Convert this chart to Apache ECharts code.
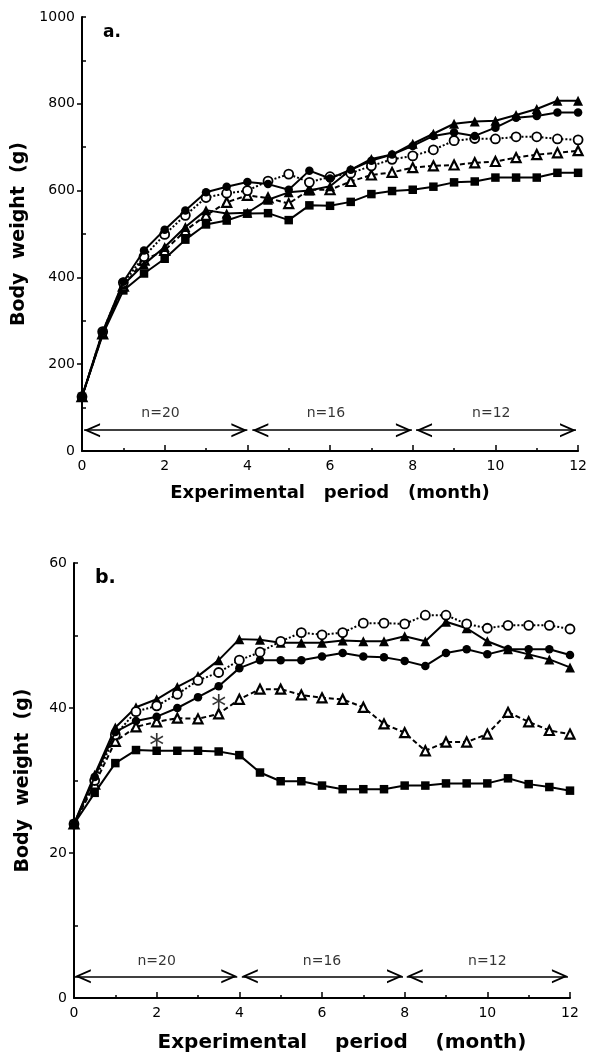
<!DOCTYPE html>
<html><head><meta charset="utf-8">
<script src="https://cdn.jsdelivr.net/npm/echarts@6/dist/echarts.min.js"></script>
<style>html,body{margin:0;padding:0;background:#fff}#c{width:590px;height:1057px}</style>
</head><body><div id="c"></div>
<script>
// ---------- data ----------
const months = [0,0.5,1,1.5,2,2.5,3,3.5,4,4.5,5,5.5,6,6.5,7,7.5,8,8.5,9,9.5,10,10.5,11,11.5,12];

// panel a body weight, g
const aFilledCircle   = [125,275,390,462,510,554,596,609,620,615,602,646,628,648,669,683,703,726,734,726,745,768,772,780,780];
const aOpenCircle     = [125,275,388,448,499,543,584,594,600,622,638,619,632,640,657,672,680,694,715,720,719,724,724,719,717];
const aFilledTriangle = [125,272,383,430,470,516,555,547,549,579,596,600,610,648,673,683,708,731,754,759,761,774,788,807,807];
const aOpenTriangle   = [125,270,380,440,462,508,543,573,589,583,570,602,602,621,636,642,653,657,659,664,667,676,683,687,692];
const aSquare         = [125,268,370,409,443,487,522,531,547,548,532,566,565,574,592,599,602,609,619,621,630,630,630,641,641];

// panel b body weight, g
const bFilledCircle   = [24,30.5,36.7,38.2,38.8,40.0,41.5,43.0,45.5,46.6,46.6,46.6,47.1,47.6,47.1,47.0,46.5,45.8,47.6,48.1,47.4,48.1,48.1,48.1,47.3];
const bOpenCircle     = [24,30.0,36.3,39.5,40.3,41.9,43.8,44.9,46.6,47.7,49.2,50.4,50.1,50.4,51.7,51.7,51.6,52.8,52.8,51.6,51.0,51.4,51.4,51.4,50.9];
const bFilledTriangle = [24,30.8,37.3,40.1,41.2,42.9,44.4,46.6,49.5,49.4,49.0,49.0,49.0,49.3,49.2,49.2,49.9,49.2,51.9,51.0,49.2,48.1,47.4,46.7,45.6];
const bOpenTriangle   = [24,29.5,35.4,37.4,38.1,38.6,38.5,39.2,41.2,42.6,42.6,41.8,41.4,41.2,40.1,37.8,36.6,34.1,35.3,35.3,36.4,39.4,38.1,36.9,36.4];
const bSquare         = [24,28.3,32.4,34.2,34.1,34.1,34.1,34.0,33.5,31.1,29.9,29.9,29.3,28.8,28.8,28.8,29.3,29.3,29.6,29.6,29.6,30.3,29.5,29.1,28.6];

// group-size annotations
const nTexts = ['n=20','n=16','n=12'];
const aNX = [1.9,5.9,9.9];
const aNY = 87;
const aArrowY = 48;
const aArrows = [[0.05,4.0],[4.12,7.98],[8.08,11.95]];
const bNX = [2,6,10];
const bNY = 5;
const bArrowY = 3;
const bArrows = [[0.02,3.95],[4.06,7.96],[8.05,11.95]];
// significance asterisks (panel b)
const bAsterisks = [[2,35.7],[3.5,41.1]];

// axis ticks
const aYTicks = [0,200,400,600,800,1000];
const bYTicks = [0,20,40,60];
const xTicks = [0,2,4,6,8,10,12];

// ---------- chart ----------
const FONT = 'DejaVu Sans';
const BLACK = '#000';
// open chevron, tip at the centre of its bounding box
const chevron = 'path://M0,0 L7,16 L5.04,16 L0,4.49 L-5.04,16 L-7,16 Z M0,-16 L0,-16 Z';

const styles = {
  filledCircle:   {symbol:'circle',   size:8.5, fill:BLACK,  bw:0,   type:'solid',  z:5},
  openCircle:     {symbol:'circle',   size:9,   fill:'#fff', bw:1.8, type:'dotted', z:4},
  filledTriangle: {symbol:'triangle', size:10,  fill:BLACK,  bw:0,   type:'solid',  z:3},
  openTriangle:   {symbol:'triangle', size:9,   fill:'#fff', bw:2.2, type:[5,3],    z:2},
  square:         {symbol:'rect',     size:8.5, fill:BLACK,  bw:0,   type:'solid',  z:1}
};

function lineSeries(name, vals, gi, st) {
  return {
    name, type:'line', xAxisIndex:gi, yAxisIndex:gi*2,
    data: months.map((m,i)=>[m, vals[i]]),
    symbol: st.symbol, symbolSize: st.size, showAllSymbol:true,
    itemStyle:{color:st.fill, borderColor:BLACK, borderWidth:st.bw},
    lineStyle:{color:BLACK, width:2, type:st.type},
    emphasis:{disabled:true}, z: st.z
  };
}

function annot(gi, nx, ny, arrows, arrowY) {
  return {
    type:'scatter', xAxisIndex:gi, yAxisIndex:gi*2,
    symbol:'circle', symbolSize:1, itemStyle:{color:'rgba(0,0,0,0)'},
    label:{show:true, position:'inside', formatter:p=>p.data.name,
      fontFamily:FONT, fontSize:14, color:BLACK},
    data: nx.map((x,i)=>({value:[x,ny], name:nTexts[i]})),
    silent:true,
    markLine:{
      silent:true, animation:false,
      symbol:[chevron, chevron], symbolSize:[14,32],
      lineStyle:{color:BLACK, width:1.6, type:'solid'},
      label:{show:false},
      data: arrows.map(a=>[{coord:[a[0],arrowY]},{coord:[a[1],arrowY]}])
    }
  };
}

function xAxis(gi, gap, fs, name, pad) {
  return {
    type:'value', gridIndex:gi, min:0, max:12, interval:2,
    name:name, nameLocation:'middle', nameGap:gap,
    nameTextStyle:{fontFamily:FONT, fontWeight:'bold', fontSize:fs, color:BLACK, padding:pad},
    axisLine:{show:true, lineStyle:{color:BLACK, width:2}},
    axisTick:{show:true, inside:true, length:6, lineStyle:{color:BLACK, width:1.5}, customValues:xTicks},
    minorTick:{show:true, splitNumber:2, length:3, lineStyle:{color:BLACK, width:1.5}},
    axisLabel:{fontFamily:FONT, fontSize:14, color:BLACK, margin:8, customValues:xTicks, formatter:v=>String(v)},
    splitLine:{show:false}
  };
}

function yAxes(gi, max, interval, ticks, minor, gap) {
  return [{
    type:'value', gridIndex:gi, min:0, max:max, interval:interval, position:'left',
    name:'Body  weight  (g)', nameLocation:'middle', nameGap:gap,
    nameTextStyle:{fontFamily:FONT, fontWeight:'bold', fontSize:19, color:BLACK},
    axisLine:{show:true, lineStyle:{color:BLACK, width:2}},
    axisTick:{show:true, inside:false, length:5, lineStyle:{color:BLACK, width:1.5},
      customValues:ticks.slice(1, ticks.length-1)},
    axisLabel:{fontFamily:FONT, fontSize:14, color:BLACK, margin:7, customValues:ticks, formatter:v=>String(v)},
    splitLine:{show:false}
  },{
    type:'value', gridIndex:gi, min:0, max:max, position:'left',
    axisLine:{show:false}, axisLabel:{show:false}, splitLine:{show:false},
    axisTick:{show:true, inside:true, length:4, lineStyle:{color:BLACK, width:1.5}, customValues:minor}
  }];
}

const option = {
  animation:false,
  backgroundColor:'#fff',
  title:[
    {text:'a.', left:103, top:24, padding:0, textStyle:{fontFamily:FONT, fontWeight:'bold', fontSize:17, color:BLACK}},
    {text:'b.', left:95, top:569, padding:0, textStyle:{fontFamily:FONT, fontWeight:'bold', fontSize:19, color:BLACK}}
  ],
  grid:[
    {left:82, top:17, width:499, height:434},
    {left:74, top:563, width:496, height:435}
  ],
  xAxis:[
    xAxis(0, 33, 18, 'Experimental   period   (month)', [0,0,0,0]),
    xAxis(1, 35, 20, 'Experimental    period    (month)', [0,0,0,40])
  ],
  yAxis:[...yAxes(0,1000,200,aYTicks,[100,300,500,700,900,1000],52),
         ...yAxes(1,60,20,bYTicks,[10,30,50,60],41)],
  series:[
    lineSeries('a-square', aSquare, 0, styles.square),
    lineSeries('a-openTriangle', aOpenTriangle, 0, styles.openTriangle),
    lineSeries('a-filledTriangle', aFilledTriangle, 0, styles.filledTriangle),
    lineSeries('a-openCircle', aOpenCircle, 0, styles.openCircle),
    lineSeries('a-filledCircle', aFilledCircle, 0, styles.filledCircle),
    lineSeries('b-square', bSquare, 1, styles.square),
    lineSeries('b-openTriangle', bOpenTriangle, 1, styles.openTriangle),
    lineSeries('b-filledTriangle', bFilledTriangle, 1, styles.filledTriangle),
    lineSeries('b-openCircle', bOpenCircle, 1, styles.openCircle),
    lineSeries('b-filledCircle', bFilledCircle, 1, styles.filledCircle),
    annot(0, aNX, aNY, aArrows, aArrowY),
    annot(1, bNX, bNY, bArrows, bArrowY),
    {
      type:'scatter', xAxisIndex:1, yAxisIndex:2, silent:true,
      symbol:'circle', symbolSize:1, itemStyle:{color:'rgba(0,0,0,0)'},
      label:{show:true, position:'inside', formatter:'*', fontFamily:FONT, fontSize:30, color:BLACK, offset:[0,8]},
      data: bAsterisks
    }
  ]
};
const chart = echarts.init(document.getElementById('c'));
chart.setOption(option);
</script>
</body></html>
